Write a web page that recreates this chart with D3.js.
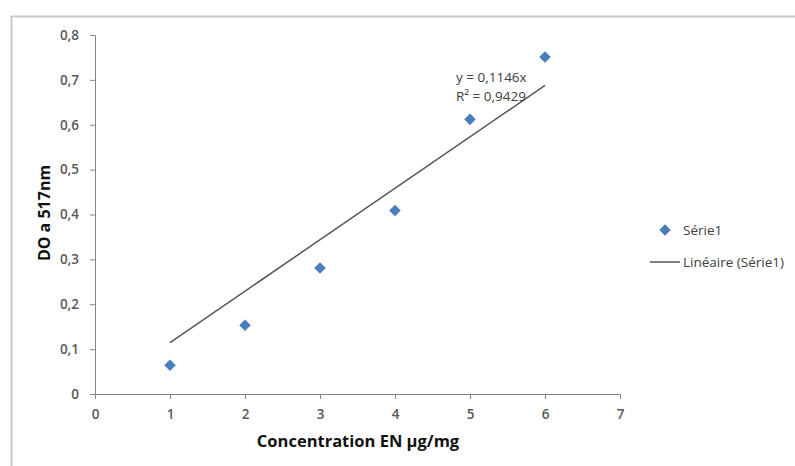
<!DOCTYPE html>
<html><head><meta charset="utf-8">
<script src="https://cdn.jsdelivr.net/npm/d3@7"></script>
<style>body{margin:0;background:#fff}svg{display:block}text{font-family:"Open Sans","Liberation Sans",sans-serif}</style>
</head><body>
<script>
const xValues = [1, 2, 3, 4, 5, 6];
const yValues = [0.064, 0.153, 0.281, 0.409, 0.612, 0.751];
const slope = 0.1146;
const xTicks = [0, 1, 2, 3, 4, 5, 6, 7];
const yTicks = [0, 0.1, 0.2, 0.3, 0.4, 0.5, 0.6, 0.7, 0.8];
const equationLines = ["y = 0,1146x", "R² = 0,9429"];
const legendLabels = ["Série1", "Linéaire (Série1)"];

const W = 795, H = 466;
const svg = d3.select("body").append("svg").attr("width", W).attr("height", H);

// outer frame (left and top)
svg.append("path").attr("d", `M11.5,${H} V16.5 H${W}`).attr("fill","none").attr("stroke","#c8c8c8").attr("stroke-width",2);

const x = d3.scaleLinear().domain([0, 7]).range([95, 620]);
const y = d3.scaleLinear().domain([0, 0.8]).range([394, 35]);
const fmt = d => String(d).replace(".", ",");

const gx = svg.append("g").attr("transform", "translate(0,394)")
  .call(d3.axisBottom(x).tickValues(xTicks).tickSize(5).tickFormat(fmt));
const gy = svg.append("g").attr("transform", "translate(95,0)")
  .call(d3.axisLeft(y).tickValues(yTicks).tickSize(5).tickFormat(fmt));
[gx, gy].forEach(g => {
  g.select(".domain").attr("stroke", "#868686");
  g.selectAll(".tick line").attr("stroke", "#868686");
  g.selectAll(".tick text").attr("fill", "#595959").attr("font-size", 13.5).attr("font-weight", 600);
});
gx.selectAll(".tick text").attr("dy", "1.25em");
gy.selectAll(".tick text").attr("x", -16);

// trendline
svg.append("line")
  .attr("x1", x(d3.min(xValues))).attr("y1", y(slope * d3.min(xValues)))
  .attr("x2", x(d3.max(xValues))).attr("y2", y(slope * d3.max(xValues)))
  .attr("stroke", "#555").attr("stroke-width", 1.5);

// points
const diamond = d3.symbol().type(d3.symbolDiamond2).size(85);
svg.append("g").selectAll("path").data(xValues).join("path")
  .attr("transform", (d, i) => `translate(${x(d)},${y(yValues[i])})`)
  .attr("d", diamond).attr("fill", "#4a7ebb");

// equation
svg.append("g").selectAll("text").data(equationLines).join("text")
  .attr("x", 456).attr("y", (d, i) => 82 + i * 19)
  .attr("font-size", 13.5).attr("fill", "#404040").text(d => d);

// axis titles
svg.append("text").attr("x", 358).attr("y", 447).attr("text-anchor", "middle")
  .attr("font-size", 16.5).attr("font-weight", "bold").attr("fill", "#111").text("Concentration EN µg/mg");
svg.append("text").attr("transform", "translate(50,213) rotate(-90)").attr("text-anchor", "middle")
  .attr("font-size", 16).attr("font-weight", "bold").attr("fill", "#111").text("DO a 517nm");

// legend
svg.append("path").attr("transform", "translate(665,230)").attr("d", diamond).attr("fill", "#4a7ebb");
svg.append("line").attr("x1", 650).attr("x2", 680).attr("y1", 262).attr("y2", 262).attr("stroke", "#555").attr("stroke-width", 1.5);
svg.append("g").selectAll("text").data(legendLabels).join("text")
  .attr("x", 683).attr("y", (d, i) => 235 + i * 32)
  .attr("font-size", 13.5).attr("fill", "#404040").text(d => d);
</script>
</body></html>
